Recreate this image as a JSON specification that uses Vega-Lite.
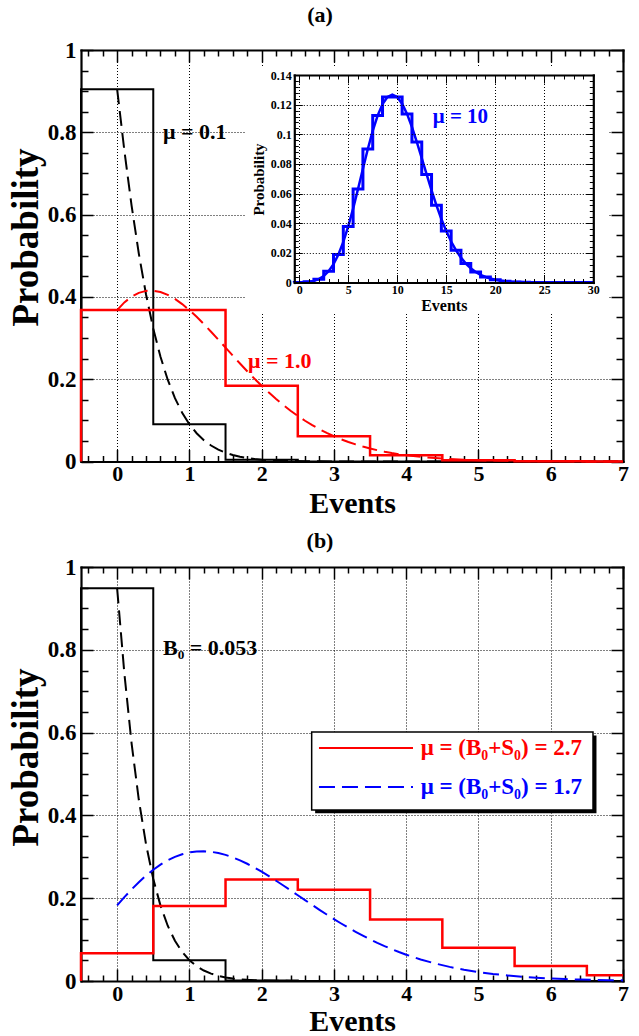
{
"$schema": "https://vega.github.io/schema/vega-lite/v6.json",
"width": 639, "height": 1036,
"autosize": {"type": "none"},
"padding": 0,
"background": "white",
"config": {
  "view": {"stroke": null},
  "font": "Liberation Serif",
  "axis": {"labelFont": "Liberation Serif", "titleFont": "Liberation Serif", "labelColor": "black", "titleColor": "black", "domainColor": "black", "tickColor": "black", "gridColor": "black", "gridDash": [1, 2], "gridWidth": 1, "gridOpacity": 1, "labelFontWeight": "bold", "titleFontWeight": "bold", "labelFlush": false, "labelOverlap": false, "labelBound": false, "tickWidth": 1.5, "domainWidth": 2.2, "domainCap": "square", "titleBaseline": "alphabetic", "titleAlign": "center"}
},
"datasets": {
  "histA_mu01": [{"x":-0.5,"p":0},{"x":-0.5,"p":0.90484},{"x":0.5,"p":0.09048},{"x":1.5,"p":0.004524},{"x":2.5,"p":0.000151},{"x":3.5,"p":0.0000038},{"x":4.5,"p":0.0000001},{"x":5.5,"p":0},{"x":6.5,"p":0},{"x":7,"p":0}],
  "histA_mu1": [{"x":-0.5,"p":0},{"x":-0.5,"p":0.36788},{"x":0.5,"p":0.36788},{"x":1.5,"p":0.18394},{"x":2.5,"p":0.061313},{"x":3.5,"p":0.015328},{"x":4.5,"p":0.0030657},{"x":5.5,"p":0.00051094},{"x":6.5,"p":0.000073},{"x":7,"p":0.000073}],
  "curveA_mu01": [{"x":0,"p":0.90484},{"x":0.1,"p":0.75549},{"x":0.2,"p":0.62179},{"x":0.3,"p":0.5053},{"x":0.4,"p":0.40599},{"x":0.5,"p":0.32287},{"x":0.6,"p":0.25437},{"x":0.7,"p":0.19869},{"x":0.8,"p":0.15397},{"x":0.9,"p":0.11844},{"x":1,"p":0.09048},{"x":1.1,"p":0.06868},{"x":1.2,"p":0.05182},{"x":1.3,"p":0.03887},{"x":1.4,"p":0.029},{"x":1.5,"p":0.02152},{"x":1.6,"p":0.0159},{"x":1.7,"p":0.01169},{"x":1.8,"p":0.00855},{"x":1.9,"p":0.00623},{"x":2,"p":0.00452},{"x":2.2,"p":0.00236},{"x":2.4,"p":0.00121},{"x":2.6,"p":0.00061},{"x":2.8,"p":0.00031},{"x":3,"p":0.00015},{"x":3.5,"p":0.00002},{"x":4,"p":0},{"x":5,"p":0},{"x":6,"p":0},{"x":7,"p":0}],
  "curveA_mu1": [{"x":0,"p":0.36788},{"x":0.1,"p":0.38669},{"x":0.2,"p":0.40067},{"x":0.3,"p":0.40991},{"x":0.4,"p":0.41462},{"x":0.5,"p":0.4151},{"x":0.6,"p":0.41172},{"x":0.7,"p":0.40487},{"x":0.8,"p":0.39498},{"x":0.9,"p":0.3825},{"x":1,"p":0.36788},{"x":1.1,"p":0.35154},{"x":1.2,"p":0.33389},{"x":1.3,"p":0.31531},{"x":1.4,"p":0.29616},{"x":1.5,"p":0.27674},{"x":1.6,"p":0.25733},{"x":1.7,"p":0.23816},{"x":1.8,"p":0.21944},{"x":1.9,"p":0.20132},{"x":2,"p":0.18394},{"x":2.1,"p":0.1674},{"x":2.2,"p":0.15177},{"x":2.3,"p":0.13709},{"x":2.4,"p":0.1234},{"x":2.5,"p":0.1107},{"x":2.6,"p":0.09897},{"x":2.7,"p":0.08821},{"x":2.8,"p":0.07837},{"x":2.9,"p":0.06942},{"x":3,"p":0.06131},{"x":3.1,"p":0.054},{"x":3.2,"p":0.04743},{"x":3.3,"p":0.04154},{"x":3.4,"p":0.03629},{"x":3.5,"p":0.03163},{"x":3.6,"p":0.02749},{"x":3.7,"p":0.02384},{"x":3.8,"p":0.02062},{"x":3.9,"p":0.0178},{"x":4,"p":0.01533},{"x":4.2,"p":0.01129},{"x":4.4,"p":0.00825},{"x":4.6,"p":0.00598},{"x":4.8,"p":0.0043},{"x":5,"p":0.00307},{"x":5.2,"p":0.00217},{"x":5.4,"p":0.00153},{"x":5.6,"p":0.00107},{"x":5.8,"p":0.00074},{"x":6,"p":0.00051},{"x":6.2,"p":0.00035},{"x":6.4,"p":0.00024},{"x":6.6,"p":0.00016},{"x":6.8,"p":0.00011},{"x":7,"p":0.00007}],
  "inset_hist": [{"x":-0.5,"p":0},{"x":-0.5,"p":0.0000454},{"x":0.5,"p":0.000454},{"x":1.5,"p":0.00227},{"x":2.5,"p":0.007567},{"x":3.5,"p":0.018917},{"x":4.5,"p":0.037833},{"x":5.5,"p":0.063055},{"x":6.5,"p":0.090079},{"x":7.5,"p":0.112599},{"x":8.5,"p":0.12511},{"x":9.5,"p":0.12511},{"x":10.5,"p":0.113736},{"x":11.5,"p":0.09478},{"x":12.5,"p":0.072908},{"x":13.5,"p":0.052077},{"x":14.5,"p":0.034718},{"x":15.5,"p":0.021699},{"x":16.5,"p":0.012764},{"x":17.5,"p":0.007091},{"x":18.5,"p":0.003732},{"x":19.5,"p":0.001866},{"x":20.5,"p":0.000889},{"x":21.5,"p":0.000404},{"x":22.5,"p":0.000176},{"x":23.5,"p":0.0000732},{"x":24.5,"p":0.0000293},{"x":25.5,"p":0.0000113},{"x":26.5,"p":0.0000042},{"x":27.5,"p":0.0000015},{"x":28.5,"p":0.0000005},{"x":29.5,"p":0.0000002},{"x":30,"p":0.0000002}],
  "inset_curve": [{"x":0,"p":0.0000454},{"x":0.5,"p":0.000162},{"x":1,"p":0.000454},{"x":1.5,"p":0.00108},{"x":2,"p":0.00227},{"x":2.5,"p":0.00432},{"x":3,"p":0.00757},{"x":3.5,"p":0.01234},{"x":4,"p":0.01892},{"x":4.5,"p":0.02743},{"x":5,"p":0.03783},{"x":5.5,"p":0.04987},{"x":6,"p":0.06306},{"x":6.5,"p":0.07672},{"x":7,"p":0.09008},{"x":7.5,"p":0.1023},{"x":8,"p":0.1126},{"x":8.5,"p":0.12035},{"x":9,"p":0.12511},{"x":9.5,"p":0.12668},{"x":10,"p":0.12511},{"x":10.5,"p":0.12065},{"x":11,"p":0.11374},{"x":11.5,"p":0.10491},{"x":12,"p":0.09478},{"x":12.5,"p":0.08393},{"x":13,"p":0.07291},{"x":13.5,"p":0.06217},{"x":14,"p":0.05208},{"x":14.5,"p":0.04288},{"x":15,"p":0.03472},{"x":15.5,"p":0.02766},{"x":16,"p":0.0217},{"x":16.5,"p":0.01677},{"x":17,"p":0.01276},{"x":17.5,"p":0.00958},{"x":18,"p":0.00709},{"x":18.5,"p":0.00518},{"x":19,"p":0.00373},{"x":19.5,"p":0.00266},{"x":20,"p":0.00187},{"x":20.5,"p":0.0013},{"x":21,"p":0.00089},{"x":21.5,"p":0.0006},{"x":22,"p":0.0004},{"x":22.5,"p":0.00027},{"x":23,"p":0.00018},{"x":23.5,"p":0.00011},{"x":24,"p":0.00007},{"x":25,"p":0.00003},{"x":26,"p":0.00001},{"x":28,"p":0.0000015},{"x":30,"p":0.0000002}],
  "histB_B0": [{"x":-0.5,"p":0},{"x":-0.5,"p":0.94838},{"x":0.5,"p":0.050264},{"x":1.5,"p":0.001332},{"x":2.5,"p":0.0000235},{"x":3.5,"p":0.0000003},{"x":4.5,"p":0},{"x":5.5,"p":0},{"x":6.5,"p":0},{"x":7,"p":0}],
  "histB_mu27": [{"x":-0.5,"p":0},{"x":-0.5,"p":0.067206},{"x":0.5,"p":0.181455},{"x":1.5,"p":0.244964},{"x":2.5,"p":0.220468},{"x":3.5,"p":0.148816},{"x":4.5,"p":0.080361},{"x":5.5,"p":0.036162},{"x":6.5,"p":0.013948},{"x":7,"p":0.013948}],
  "curveB_B0": [{"x":0,"p":0.94838},{"x":0.1,"p":0.74314},{"x":0.2,"p":0.57399},{"x":0.3,"p":0.43777},{"x":0.4,"p":0.3301},{"x":0.5,"p":0.24636},{"x":0.6,"p":0.18216},{"x":0.7,"p":0.13353},{"x":0.8,"p":0.09711},{"x":0.9,"p":0.07011},{"x":1,"p":0.05026},{"x":1.1,"p":0.03581},{"x":1.2,"p":0.02535},{"x":1.3,"p":0.01785},{"x":1.4,"p":0.0125},{"x":1.5,"p":0.0087},{"x":1.6,"p":0.00603},{"x":1.7,"p":0.00416},{"x":1.8,"p":0.00286},{"x":1.9,"p":0.00196},{"x":2,"p":0.00133},{"x":2.2,"p":0.00061},{"x":2.4,"p":0.00028},{"x":2.6,"p":0.00012},{"x":2.8,"p":0.00005},{"x":3,"p":0.00002},{"x":4,"p":0},{"x":5,"p":0},{"x":6,"p":0},{"x":7,"p":0}],
  "curveB_mu17": [{"x":0,"p":0.18268},{"x":0.1,"p":0.20249},{"x":0.2,"p":0.22124},{"x":0.3,"p":0.23868},{"x":0.4,"p":0.25459},{"x":0.5,"p":0.26877},{"x":0.6,"p":0.2811},{"x":0.7,"p":0.29149},{"x":0.8,"p":0.29987},{"x":0.9,"p":0.30622},{"x":1,"p":0.31056},{"x":1.1,"p":0.31294},{"x":1.2,"p":0.31343},{"x":1.3,"p":0.31212},{"x":1.4,"p":0.30914},{"x":1.5,"p":0.30461},{"x":1.6,"p":0.29868},{"x":1.7,"p":0.29149},{"x":1.8,"p":0.28321},{"x":1.9,"p":0.27399},{"x":2,"p":0.26398},{"x":2.1,"p":0.25333},{"x":2.2,"p":0.24219},{"x":2.3,"p":0.2307},{"x":2.4,"p":0.21898},{"x":2.5,"p":0.20713},{"x":2.6,"p":0.19529},{"x":2.7,"p":0.18353},{"x":2.8,"p":0.17195},{"x":2.9,"p":0.16061},{"x":3,"p":0.14959},{"x":3.1,"p":0.13892},{"x":3.2,"p":0.12866},{"x":3.3,"p":0.11884},{"x":3.4,"p":0.10949},{"x":3.5,"p":0.10061},{"x":3.6,"p":0.09222},{"x":3.7,"p":0.08433},{"x":3.8,"p":0.07693},{"x":3.9,"p":0.07001},{"x":4,"p":0.06357},{"x":4.2,"p":0.05208},{"x":4.4,"p":0.0423},{"x":4.6,"p":0.03408},{"x":4.8,"p":0.02724},{"x":5,"p":0.02162},{"x":5.2,"p":0.01703},{"x":5.4,"p":0.01332},{"x":5.6,"p":0.01035},{"x":5.8,"p":0.00799},{"x":6,"p":0.00612},{"x":6.2,"p":0.00467},{"x":6.4,"p":0.00354},{"x":6.6,"p":0.00266},{"x":6.8,"p":0.002},{"x":7,"p":0.00149}]
},
"layer": [
  {"data": {"name": "histA_mu01"}, "mark": {"type": "line", "interpolate": "step-after", "color": "black", "strokeWidth": 2},
   "encoding": {
     "x": {"field": "x", "type": "quantitative", "scale": {"domain": [-0.5, 7], "range": [81, 623], "nice": false, "zero": false},
       "axis": {"orient": "bottom", "offset": -574.5, "values": [0,1,2,3,4,5,6,7], "format": "~g", "grid": false, "domain": true, "ticks": true, "tickSize": -12, "labels": true, "labelFontSize": 22, "labelPadding": 14, "title": "Events", "titleFontSize": 30, "titleX": 352, "titleY": 51}},
     "y": {"field": "p", "type": "quantitative", "scale": {"domain": [0, 1], "range": [461.5, 50], "nice": false, "zero": false},
       "axis": {"orient": "left", "offset": -81, "values": [0,0.2,0.4,0.6,0.8,1], "format": "~g", "grid": true, "domain": true, "ticks": true, "tickSize": -12, "labels": true, "labelFontSize": 23, "labelPadding": 17, "title": "Probability", "titleFontSize": 37, "titleX": -44, "titleY": 237, "titleAngle": 270}}}},
  {"data": {"name": "curveA_mu01"}, "mark": {"type": "line", "color": "black", "strokeWidth": 2, "strokeDash": [15, 7]},
   "encoding": {
     "x": {"field": "x", "type": "quantitative", "scale": {"domain": [-0.5, 7], "range": [81, 623], "nice": false, "zero": false},
       "axis": {"orient": "top", "offset": -50, "values": [0,1,2,3,4,5,6,7], "grid": true, "domain": true, "ticks": true, "tickSize": -12, "labels": false, "title": "(a)", "titleFontSize": 22, "titleX": 319.5, "titleY": -29}},
     "y": {"field": "p", "type": "quantitative", "scale": {"domain": [0, 1], "range": [461.5, 50], "nice": false, "zero": false},
       "axis": {"orient": "right", "offset": -16, "values": [0,0.2,0.4,0.6,0.8,1], "grid": false, "domain": true, "ticks": true, "tickSize": -12, "labels": false, "title": null}}}},
  {"data": {"name": "histA_mu1"}, "mark": {"type": "line", "interpolate": "step-after", "color": "#ff0000", "strokeWidth": 2.5},
   "encoding": {
     "x": {"field": "x", "type": "quantitative", "scale": {"domain": [-0.5, 7], "range": [81, 623], "nice": false, "zero": false},
       "axis": {"orient": "bottom", "offset": -574.5, "values": [-0.4,-0.2,0.2,0.4,0.6,0.8,1.2,1.4,1.6,1.8,2.2,2.4,2.6,2.8,3.2,3.4,3.6,3.8,4.2,4.4,4.6,4.8,5.2,5.4,5.6,5.8,6.2,6.4,6.6,6.8], "grid": false, "domain": false, "ticks": true, "tickSize": -6, "labels": false, "title": null}},
     "y": {"field": "p", "type": "quantitative", "scale": {"domain": [0, 1], "range": [461.5, 50], "nice": false, "zero": false},
       "axis": {"orient": "left", "offset": -81, "values": [0.05,0.1,0.15,0.25,0.3,0.35,0.45,0.5,0.55,0.65,0.7,0.75,0.85,0.9,0.95], "grid": false, "domain": false, "ticks": true, "tickSize": -7, "labels": false, "title": null}}}},
  {"data": {"name": "curveA_mu1"}, "mark": {"type": "line", "color": "#ff0000", "strokeWidth": 2, "strokeDash": [15, 7]},
   "encoding": {
     "x": {"field": "x", "type": "quantitative", "scale": {"domain": [-0.5, 7], "range": [81, 623], "nice": false, "zero": false},
       "axis": {"orient": "top", "offset": -50, "values": [-0.4,-0.2,0.2,0.4,0.6,0.8,1.2,1.4,1.6,1.8,2.2,2.4,2.6,2.8,3.2,3.4,3.6,3.8,4.2,4.4,4.6,4.8,5.2,5.4,5.6,5.8,6.2,6.4,6.6,6.8], "grid": false, "domain": false, "ticks": true, "tickSize": -6, "labels": false, "title": null}},
     "y": {"field": "p", "type": "quantitative", "scale": {"domain": [0, 1], "range": [461.5, 50], "nice": false, "zero": false},
       "axis": {"orient": "right", "offset": -16, "values": [0.05,0.1,0.15,0.25,0.3,0.35,0.45,0.5,0.55,0.65,0.7,0.75,0.85,0.9,0.95], "grid": false, "domain": false, "ticks": true, "tickSize": -7, "labels": false, "title": null}}}},
  {"data": {"values": [{"label": "μ = 0.1"}]}, "mark": {"type": "text", "align": "left", "baseline": "middle", "fontSize": 22, "fontWeight": "bold", "font": "Liberation Serif", "color": "black"},
   "encoding": {
     "x": {"datum": 0.635, "type": "quantitative", "scale": {"domain": [-0.5, 7], "range": [81, 623], "nice": false, "zero": false}, "axis": null},
     "y": {"datum": 0.801, "type": "quantitative", "scale": {"domain": [0, 1], "range": [461.5, 50], "nice": false, "zero": false}, "axis": null},
     "text": {"field": "label"}}},
  {"data": {"values": [{"label": "μ = 1.0"}]}, "mark": {"type": "text", "align": "left", "baseline": "middle", "fontSize": 22, "fontWeight": "bold", "font": "Liberation Serif", "color": "#ff0000"},
   "encoding": {
     "x": {"datum": 1.81, "type": "quantitative", "scale": {"domain": [-0.5, 7], "range": [81, 623], "nice": false, "zero": false}, "axis": null},
     "y": {"datum": 0.244, "type": "quantitative", "scale": {"domain": [0, 1], "range": [461.5, 50], "nice": false, "zero": false}, "axis": null},
     "text": {"field": "label"}}},
  {"data": {"values": [{"item": "inset pad"}]}, "mark": {"type": "rect", "color": "white", "opacity": 1},
   "encoding": {
     "x": {"datum": -5.5, "type": "quantitative", "scale": {"domain": [-0.5, 30], "range": [294.3, 593.3], "nice": false, "zero": false},
       "axis": {"orient": "top", "offset": -75, "values": [0,5,10,15,20,25,30], "grid": true, "domain": true, "ticks": true, "tickSize": -8, "tickWidth": 1, "labels": false, "title": null, "zindex": 1}},
     "x2": {"datum": 31.6},
     "y": {"datum": -0.0199, "type": "quantitative", "scale": {"domain": [0, 0.14], "range": [282.5, 75], "nice": false, "zero": false},
       "axis": {"orient": "right", "offset": -45.7, "values": [0,0.02,0.04,0.06,0.08,0.1,0.12,0.14], "grid": false, "domain": true, "ticks": true, "tickSize": -8, "tickWidth": 1, "labels": false, "title": null, "zindex": 1}},
     "y2": {"datum": 0.1461}}},
  {"data": {"name": "inset_hist"}, "mark": {"type": "line", "interpolate": "step-after", "color": "#0000ff", "strokeWidth": 3},
   "encoding": {
     "x": {"field": "x", "type": "quantitative", "scale": {"domain": [-0.5, 30], "range": [294.3, 593.3], "nice": false, "zero": false},
       "axis": {"orient": "bottom", "offset": -753.5, "values": [0,5,10,15,20,25,30], "format": "~g", "grid": false, "domain": true, "ticks": true, "tickSize": -8, "tickWidth": 1, "labels": true, "labelFontSize": 12, "labelPadding": 10, "title": "Events", "titleFontSize": 16, "titleX": 443.8, "titleY": 27.5, "zindex": 1}},
     "y": {"field": "p", "type": "quantitative", "scale": {"domain": [0, 0.14], "range": [282.5, 75], "nice": false, "zero": false},
       "axis": {"orient": "left", "offset": -294.3, "values": [0,0.02,0.04,0.06,0.08,0.1,0.12,0.14], "format": "~g", "grid": true, "domain": true, "ticks": true, "tickSize": -8, "tickWidth": 1, "labels": true, "labelFontSize": 12, "labelPadding": 11, "title": "Probability", "titleFontSize": 15, "titleX": -31.3, "titleY": 179, "titleAngle": 270, "zindex": 1}}}},
  {"data": {"name": "inset_curve"}, "mark": {"type": "line", "color": "#0000ff", "strokeWidth": 2.5},
   "encoding": {
     "x": {"field": "x", "type": "quantitative", "scale": {"domain": [-0.5, 30], "range": [294.3, 593.3], "nice": false, "zero": false},
       "axis": {"orient": "bottom", "offset": -753.5, "values": [1,2,3,4,6,7,8,9,11,12,13,14,16,17,18,19,21,22,23,24,26,27,28,29], "grid": false, "domain": false, "ticks": true, "tickSize": -4, "tickWidth": 1, "labels": false, "title": null, "zindex": 1}},
     "y": {"field": "p", "type": "quantitative", "scale": {"domain": [0, 0.14], "range": [282.5, 75], "nice": false, "zero": false},
       "axis": {"orient": "left", "offset": -294.3, "values": [0.004,0.008,0.012,0.016,0.024,0.028,0.032,0.036,0.044,0.048,0.052,0.056,0.064,0.068,0.072,0.076,0.084,0.088,0.092,0.096,0.104,0.108,0.112,0.116,0.124,0.128,0.132,0.136], "grid": false, "domain": false, "ticks": true, "tickSize": -4, "tickWidth": 1, "labels": false, "title": null, "zindex": 1}}}},
  {"data": {"values": [{"label": "μ = 10"}]}, "mark": {"type": "text", "align": "left", "baseline": "middle", "fontSize": 21, "fontWeight": "bold", "font": "Liberation Serif", "color": "#0000ff"},
   "encoding": {
     "x": {"datum": 13.62, "type": "quantitative", "scale": {"domain": [-0.5, 30], "range": [294.3, 593.3], "nice": false, "zero": false},
       "axis": {"orient": "top", "offset": -75, "values": [1,2,3,4,6,7,8,9,11,12,13,14,16,17,18,19,21,22,23,24,26,27,28,29], "grid": false, "domain": false, "ticks": true, "tickSize": -4, "tickWidth": 1, "labels": false, "title": null, "zindex": 1}},
     "y": {"datum": 0.1119, "type": "quantitative", "scale": {"domain": [0, 0.14], "range": [282.5, 75], "nice": false, "zero": false},
       "axis": {"orient": "right", "offset": -45.7, "values": [0.004,0.008,0.012,0.016,0.024,0.028,0.032,0.036,0.044,0.048,0.052,0.056,0.064,0.068,0.072,0.076,0.084,0.088,0.092,0.096,0.104,0.108,0.112,0.116,0.124,0.128,0.132,0.136], "grid": false, "domain": false, "ticks": true, "tickSize": -4, "tickWidth": 1, "labels": false, "title": null, "zindex": 1}},
     "text": {"field": "label"}}},
  {"data": {"name": "histB_B0"}, "mark": {"type": "line", "interpolate": "step-after", "color": "black", "strokeWidth": 2},
   "encoding": {
     "x": {"field": "x", "type": "quantitative", "scale": {"domain": [-0.5, 7], "range": [81, 623], "nice": false, "zero": false},
       "axis": {"orient": "bottom", "offset": -55, "values": [0,1,2,3,4,5,6,7], "format": "~g", "grid": false, "domain": true, "ticks": true, "tickSize": -12, "labels": true, "labelFontSize": 22, "labelPadding": 14, "title": "Events", "titleFontSize": 30, "titleX": 352, "titleY": 49}},
     "y": {"field": "p", "type": "quantitative", "scale": {"domain": [0, 1], "range": [981, 567], "nice": false, "zero": false},
       "axis": {"orient": "left", "offset": -81, "values": [0,0.2,0.4,0.6,0.8,1], "format": "~g", "grid": true, "domain": true, "ticks": true, "tickSize": -12, "labels": true, "labelFontSize": 23, "labelPadding": 17, "title": "Probability", "titleFontSize": 37, "titleX": -44, "titleY": 757, "titleAngle": 270}}}},
  {"data": {"name": "curveB_B0"}, "mark": {"type": "line", "color": "black", "strokeWidth": 2, "strokeDash": [15, 7]},
   "encoding": {
     "x": {"field": "x", "type": "quantitative", "scale": {"domain": [-0.5, 7], "range": [81, 623], "nice": false, "zero": false},
       "axis": {"orient": "top", "offset": -567, "values": [0,1,2,3,4,5,6,7], "grid": true, "domain": true, "ticks": true, "tickSize": -12, "labels": false, "title": "(b)", "titleFontSize": 22, "titleX": 319.5, "titleY": -20}},
     "y": {"field": "p", "type": "quantitative", "scale": {"domain": [0, 1], "range": [981, 567], "nice": false, "zero": false},
       "axis": {"orient": "right", "offset": -16, "values": [0,0.2,0.4,0.6,0.8,1], "grid": false, "domain": true, "ticks": true, "tickSize": -12, "labels": false, "title": null}}}},
  {"data": {"name": "histB_mu27"}, "mark": {"type": "line", "interpolate": "step-after", "color": "#ff0000", "strokeWidth": 2.5},
   "encoding": {
     "x": {"field": "x", "type": "quantitative", "scale": {"domain": [-0.5, 7], "range": [81, 623], "nice": false, "zero": false},
       "axis": {"orient": "bottom", "offset": -55, "values": [-0.4,-0.2,0.2,0.4,0.6,0.8,1.2,1.4,1.6,1.8,2.2,2.4,2.6,2.8,3.2,3.4,3.6,3.8,4.2,4.4,4.6,4.8,5.2,5.4,5.6,5.8,6.2,6.4,6.6,6.8], "grid": false, "domain": false, "ticks": true, "tickSize": -6, "labels": false, "title": null}},
     "y": {"field": "p", "type": "quantitative", "scale": {"domain": [0, 1], "range": [981, 567], "nice": false, "zero": false},
       "axis": {"orient": "left", "offset": -81, "values": [0.05,0.1,0.15,0.25,0.3,0.35,0.45,0.5,0.55,0.65,0.7,0.75,0.85,0.9,0.95], "grid": false, "domain": false, "ticks": true, "tickSize": -7, "labels": false, "title": null}}}},
  {"data": {"name": "curveB_mu17"}, "mark": {"type": "line", "color": "#0000ff", "strokeWidth": 2, "strokeDash": [16, 7]},
   "encoding": {
     "x": {"field": "x", "type": "quantitative", "scale": {"domain": [-0.5, 7], "range": [81, 623], "nice": false, "zero": false},
       "axis": {"orient": "top", "offset": -567, "values": [-0.4,-0.2,0.2,0.4,0.6,0.8,1.2,1.4,1.6,1.8,2.2,2.4,2.6,2.8,3.2,3.4,3.6,3.8,4.2,4.4,4.6,4.8,5.2,5.4,5.6,5.8,6.2,6.4,6.6,6.8], "grid": false, "domain": false, "ticks": true, "tickSize": -6, "labels": false, "title": null}},
     "y": {"field": "p", "type": "quantitative", "scale": {"domain": [0, 1], "range": [981, 567], "nice": false, "zero": false},
       "axis": {"orient": "right", "offset": -16, "values": [0.05,0.1,0.15,0.25,0.3,0.35,0.45,0.5,0.55,0.65,0.7,0.75,0.85,0.9,0.95], "grid": false, "domain": false, "ticks": true, "tickSize": -7, "labels": false, "title": null}}}},
  {"data": {"values": [{"label": "B₀ = 0.053"}]}, "mark": {"type": "text", "align": "left", "baseline": "middle", "fontSize": 22, "fontWeight": "bold", "font": "Liberation Serif", "color": "black"},
   "encoding": {
     "x": {"datum": 0.635, "type": "quantitative", "scale": {"domain": [-0.5, 7], "range": [81, 623], "nice": false, "zero": false}, "axis": null},
     "y": {"datum": 0.804, "type": "quantitative", "scale": {"domain": [0, 1], "range": [981, 567], "nice": false, "zero": false}, "axis": null},
     "text": {"field": "label"}}},
  {"data": {"values": [{"item": "legend shadow"}]}, "mark": {"type": "rect", "color": "black"},
   "encoding": {
     "x": {"datum": 2.74, "type": "quantitative", "scale": {"domain": [-0.5, 7], "range": [81, 623], "nice": false, "zero": false}, "axis": null},
     "x2": {"datum": 6.633},
     "y": {"datum": 0.405, "type": "quantitative", "scale": {"domain": [0, 1], "range": [981, 567], "nice": false, "zero": false}, "axis": null},
     "y2": {"datum": 0.593}}},
  {"data": {"values": [{"item": "legend box"}]}, "mark": {"type": "rect", "fill": "white", "stroke": "black", "strokeWidth": 1.5},
   "encoding": {
     "x": {"datum": 2.692, "type": "quantitative", "scale": {"domain": [-0.5, 7], "range": [81, 623], "nice": false, "zero": false}, "axis": null},
     "x2": {"datum": 6.585},
     "y": {"datum": 0.413, "type": "quantitative", "scale": {"domain": [0, 1], "range": [981, 567], "nice": false, "zero": false}, "axis": null},
     "y2": {"datum": 0.6014}}},
  {"data": {"values": [{"series": "μ = (B₀+S₀) = 2.7"}]}, "mark": {"type": "rule", "color": "#ff0000", "strokeWidth": 2},
   "encoding": {
     "x": {"datum": 2.793, "type": "quantitative", "scale": {"domain": [-0.5, 7], "range": [81, 623], "nice": false, "zero": false}, "axis": null},
     "x2": {"datum": 4.094},
     "y": {"datum": 0.5628, "type": "quantitative", "scale": {"domain": [0, 1], "range": [981, 567], "nice": false, "zero": false}, "axis": null}}},
  {"data": {"values": [{"series": "μ = (B₀+S₀) = 1.7"}]}, "mark": {"type": "rule", "color": "#0000ff", "strokeWidth": 2, "strokeDash": [16, 7]},
   "encoding": {
     "x": {"datum": 2.793, "type": "quantitative", "scale": {"domain": [-0.5, 7], "range": [81, 623], "nice": false, "zero": false}, "axis": null},
     "x2": {"datum": 4.094},
     "y": {"datum": 0.4686, "type": "quantitative", "scale": {"domain": [0, 1], "range": [981, 567], "nice": false, "zero": false}, "axis": null}}},
  {"data": {"values": [{"series": "μ = (B₀+S₀) = 2.7"}]}, "mark": {"type": "text", "align": "right", "baseline": "middle", "fontSize": 23, "fontWeight": "bold", "font": "Liberation Serif", "color": "#ff0000"},
   "encoding": {
     "x": {"datum": 6.433, "type": "quantitative", "scale": {"domain": [-0.5, 7], "range": [81, 623], "nice": false, "zero": false}, "axis": null},
     "y": {"datum": 0.5628, "type": "quantitative", "scale": {"domain": [0, 1], "range": [981, 567], "nice": false, "zero": false}, "axis": null},
     "text": {"field": "series"}}},
  {"data": {"values": [{"series": "μ = (B₀+S₀) = 1.7"}]}, "mark": {"type": "text", "align": "right", "baseline": "middle", "fontSize": 23, "fontWeight": "bold", "font": "Liberation Serif", "color": "#0000ff"},
   "encoding": {
     "x": {"datum": 6.433, "type": "quantitative", "scale": {"domain": [-0.5, 7], "range": [81, 623], "nice": false, "zero": false}, "axis": null},
     "y": {"datum": 0.4686, "type": "quantitative", "scale": {"domain": [0, 1], "range": [981, 567], "nice": false, "zero": false}, "axis": null},
     "text": {"field": "series"}}}
],
"resolve": {"scale": {"x": "independent", "y": "independent"}, "axis": {"x": "independent", "y": "independent"}}
}
